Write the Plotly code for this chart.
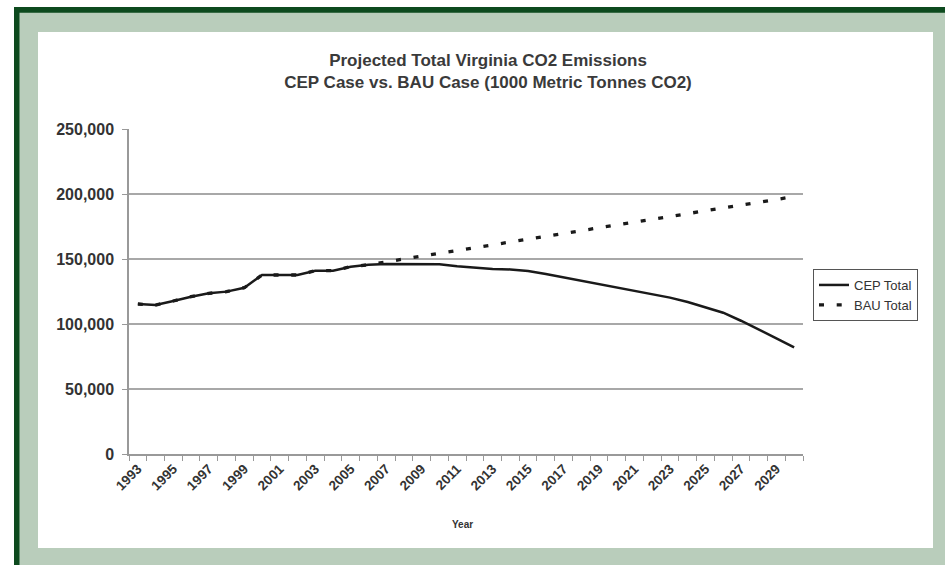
import plotly.graph_objects as go

# ---- data ----
years = list(range(1993, 2031))
cep_total = [115400, 114600, 117700, 121000, 123600, 124900, 127900, 137700, 137700, 137700,
             141000, 141000, 144100, 145600, 146200, 146200, 146200, 146000, 144400, 143300,
             142300, 142000, 140800, 138500, 135900, 133100, 130500, 128200, 125600, 123100,
             120300, 116900, 112800, 108700, 102500, 95900, 89000, 82000]
bau_total = [115400, 114600, 117700, 121000, 123600, 124900, 127900, 137700, 137700, 137700,
             141000, 141000, 144100, 145600, 147800, 150000, 152200, 154400, 156500, 158700,
             160800, 163000, 165200, 167300, 169500, 171700, 173800, 176000, 178200, 180300,
             182500, 184700, 186900, 189100, 191300, 193500, 195800, 198000]
label_years = list(range(1993, 2030, 2))
label_text = [str(y) for y in label_years]
y_ticks = [0, 50000, 100000, 150000, 200000, 250000]
grid_ticks = [50000, 100000, 150000, 200000]

# ---- geometry (pixels) ----
W, H = 945, 565
L, R, T, B = 129, 803, 129, 454
PW, PH = R - L, B - T

def px(x):
    return (x - L) / PW

def py(y):
    return (B - y) / PH

FONT = "Liberation Sans, Arial, sans-serif"
DARK = "#0d4a1e"
SAGE = "#b9cdbb"

fig = go.Figure()
fig.add_trace(go.Scatter(x=years, y=cep_total, mode="lines", name="CEP Total",
                         line=dict(color="#1a1a1a", width=2.5)))
fig.add_trace(go.Scatter(x=years, y=bau_total, mode="lines", name="BAU Total",
                         line=dict(color="#1a1a1a", width=3.3, dash="5px,12.7px")))
# invisible trace for the overlay grid axis
fig.add_trace(go.Scatter(x=[years[0]], y=[0], yaxis="y2", mode="none",
                         showlegend=False, hoverinfo="skip"))

shapes = [
    dict(type="rect", xref="paper", yref="paper", layer="below",
         x0=px(14), x1=px(W + 5), y0=py(H + 5), y1=py(7),
         fillcolor=DARK, line=dict(width=0)),
    dict(type="rect", xref="paper", yref="paper", layer="below",
         x0=px(19.5), x1=px(W + 5), y0=py(H + 5), y1=py(12.7),
         fillcolor=SAGE, line=dict(width=0)),
    dict(type="rect", xref="paper", yref="paper", layer="below",
         x0=px(38), x1=px(933), y0=py(548), y1=py(32),
         fillcolor="white", line=dict(width=0)),
]

fig.update_layout(
    width=W, height=H,
    margin=dict(l=L, r=W - R, t=T, b=H - B, pad=0),
    paper_bgcolor="white", plot_bgcolor="white",
    shapes=shapes,
    font=dict(family=FONT, color="#333333"),
    title=dict(text="Projected Total Virginia CO2 Emissions<br>CEP Case vs. BAU Case (1000 Metric Tonnes CO2)",
               x=488 / W, xanchor="center", xref="container",
               y=1 - 66 / H, yanchor="top", yref="container",
               font=dict(family=FONT, size=17, color="#3a3a3a", weight="bold")),
    xaxis=dict(range=[1992.5, 2030.5], tickmode="array", tickvals=label_years, ticktext=label_text,
               tickangle=-45, ticks="outside", ticklen=0, tickcolor="#888888",
               showline=True, linecolor="#999999", linewidth=1.5, showgrid=False, zeroline=False,
               tickfont=dict(family=FONT, size=13.5, color="#333333", weight="bold"),
               minor=dict(ticks="outside", ticklen=5, tickcolor="#999999", tick0=1992.5, dtick=1,
                          showgrid=False)),
    yaxis=dict(range=[0, 250000], tickmode="array", tickvals=y_ticks, tickformat=",",
               ticks="outside", ticklen=5, tickcolor="#999999", ticklabelstandoff=5,
               showline=True, linecolor="#999999", linewidth=1.5, showgrid=False, zeroline=False,
               tickfont=dict(family=FONT, size=16, color="#333333", weight="bold")),
    yaxis2=dict(range=[0, 250000], overlaying="y", side="left", tickmode="array",
                tickvals=grid_ticks, showticklabels=False, ticks="", showgrid=True,
                gridcolor="#a8a8a8", gridwidth=1.5, zeroline=False, showline=False),
    legend=dict(x=px(813), y=py(269), xanchor="left", yanchor="top",
                bgcolor="white", bordercolor="#555555", borderwidth=1,
                font=dict(family=FONT, size=13, color="#333333"),
                tracegroupgap=0, itemwidth=30),
    annotations=[dict(text="Year", x=px(462), y=py(524), xref="paper", yref="paper",
                      showarrow=False, xanchor="center", yanchor="middle",
                      font=dict(family=FONT, size=10, color="#333333", weight="bold"))],
    showlegend=True,
)

fig.write_html("out.html", config={"displayModeBar": False},
               post_script="document.body.style.margin='0';")
